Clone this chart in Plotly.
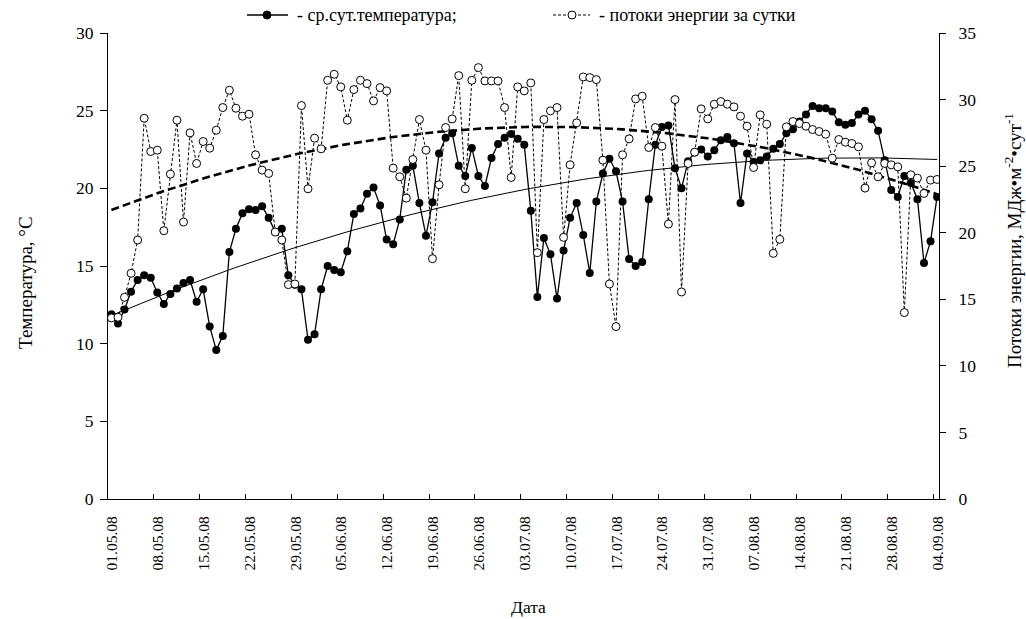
import numpy as np
import pandas as pd
import plotly.graph_objects as go

# ---------------- data ----------------
dates = pd.date_range("2008-05-01", "2008-09-04", freq="D")

temperature = [
    11.9, 11.3, 12.2, 13.35, 14.1, 14.4, 14.25, 13.3, 12.55, 13.2,
    13.55, 13.9, 14.1, 12.7, 13.5, 11.1, 9.6, 10.5, 15.9, 17.4,
    18.4, 18.65, 18.6, 18.85, 18.1, 17.2, 17.4, 14.4, 13.8, 13.5,
    10.25, 10.6, 13.5, 15.0, 14.75, 14.6, 15.95, 18.35, 18.7, 19.65,
    20.05, 18.9, 16.7, 16.4, 18.0, 21.2, 21.45, 19.05, 16.95, 19.1,
    22.25, 23.25, 23.55, 21.45, 20.8, 22.6, 20.8, 20.15, 21.95, 22.85,
    23.25, 23.5, 23.2, 22.8, 18.55, 13.0, 16.8, 15.75, 12.9, 16.0,
    18.1, 19.05, 17.0, 14.55, 19.15, 20.95, 21.9, 21.1, 19.15, 15.45,
    15.0, 15.25, 19.3, 22.8, 23.95, 24.05, 21.3, 20.0, 21.75, 22.3,
    22.5, 22.05, 22.45, 23.1, 23.3, 22.9, 19.05, 22.25, 21.7, 21.8,
    22.05, 22.55, 22.85, 23.55, 23.8, 24.3, 24.75, 25.3, 25.15, 25.15,
    24.95, 24.25, 24.1, 24.2, 24.75, 25.0, 24.45, 23.7, 21.8, 19.9,
    19.45, 20.8, 20.35, 19.3, 15.2, 16.6, 19.45,
]

energy = [
    13.6, 13.65, 15.15, 16.95, 19.45, 28.6, 26.1, 26.2, 20.15, 24.4,
    28.45, 20.8, 27.5, 25.2, 26.85, 26.35, 27.7, 29.4, 30.7, 29.35,
    28.75, 28.9, 25.85, 24.7, 24.45, 20.05, 19.45, 16.1, 16.15, 29.55,
    23.3, 27.1, 26.3, 31.45, 31.9, 30.95, 28.45, 30.75, 31.45, 31.2,
    29.9, 30.9, 30.65, 24.85, 24.2, 22.6, 25.5, 28.5, 26.2, 18.05,
    23.6, 27.9, 28.55, 31.8, 23.3, 31.45, 32.4, 31.4, 31.4, 31.4,
    29.4, 24.15, 30.95, 30.65, 31.25, 18.5, 28.5, 29.15, 29.4, 19.65,
    25.1, 28.25, 31.7, 31.65, 31.5, 25.45, 16.15, 12.95, 25.85, 27.05,
    30.05, 30.25, 26.4, 27.9, 26.5, 20.65, 30.0, 15.55, 25.2, 26.05,
    29.3, 28.55, 29.65, 29.85, 29.65, 29.45, 28.75, 28.0, 24.9, 28.85,
    28.15, 18.45, 19.5, 27.95, 28.35, 28.2, 28.0, 27.75, 27.6, 27.4,
    25.6, 27.0, 26.8, 26.7, 26.45, 23.35, 25.25, 24.2, 25.2, 25.1,
    24.95, 14.0, 24.35, 24.1, 22.95, 23.95, 24.0,
]

tick_labels = [
    "01.05.08", "08.05.08", "15.05.08", "22.05.08", "29.05.08", "05.06.08",
    "12.06.08", "19.06.08", "26.06.08", "03.07.08", "10.07.08", "17.07.08",
    "24.07.08", "31.07.08", "07.08.08", "14.08.08", "21.08.08", "28.08.08",
    "04.09.08",
]
tick_dates = pd.to_datetime(tick_labels, format="%d.%m.%y")

legend_names = ["- ср.сут.температура;", "- потоки энергии за сутки"]

# polynomial trend lines (2nd order), computed from the series
day = np.arange(len(dates))
temp_trend = np.polyval(np.polyfit(day, temperature, 2), day)
energy_trend = np.polyval(np.polyfit(day, energy, 2), day)

# ---------------- figure ----------------
FONT = "'Times New Roman', 'Liberation Serif', 'DejaVu Serif', serif"
W, H = 1026, 619
ML, MR, MT, MB = 108, 87, 33, 120
PW, PH = W - ML - MR, H - MT - MB


def xp(px):
    return (px - ML) / PW


def yp(py):
    return (H - MB - py) / PH


fig = go.Figure()

fig.add_trace(go.Scatter(
    x=dates, y=temp_trend, mode="lines", showlegend=False, hoverinfo="skip",
    line=dict(color="black", width=1),
))
fig.add_trace(go.Scatter(
    x=dates, y=temperature, mode="lines+markers", name=legend_names[0],
    showlegend=False,
    line=dict(color="black", width=1.3),
    marker=dict(symbol="circle", size=8, color="black"),
))
fig.add_trace(go.Scatter(
    x=dates, y=energy_trend, mode="lines", showlegend=False, hoverinfo="skip",
    yaxis="y2", line=dict(color="black", width=2.6, dash="8px,4px"),
))
fig.add_trace(go.Scatter(
    x=dates, y=energy, mode="lines+markers", name=legend_names[1],
    showlegend=False, yaxis="y2",
    line=dict(color="black", width=1, dash="3px,2px"),
    marker=dict(symbol="circle", size=8, color="white",
                line=dict(color="black", width=1)),
))

half = pd.Timedelta(hours=12.5)
x_left = dates[0] - half
x_right = x_left + pd.Timedelta(days=PW / 6.553)

axis_common = dict(showgrid=False, zeroline=False, color="black")

fig.update_layout(
    width=W, height=H,
    margin=dict(l=ML, r=MR, t=MT, b=MB, pad=0),
    paper_bgcolor="white", plot_bgcolor="white",
    font=dict(family=FONT, color="black", size=16),
    showlegend=False,
    xaxis=dict(
        **axis_common, type="date", range=[x_left, x_right],
        tickmode="array", tickvals=tick_dates - half, ticktext=tick_labels,
        tickangle=-90, ticks="inside", ticklen=5, tickcolor="black",
        showline=True, linecolor="black", linewidth=1,
        tickfont=dict(family=FONT, size=15.5),
        ticklabelshift=4, ticklabelstandoff=10,
    ),
    yaxis=dict(
        **axis_common, range=[0, 30], tickmode="linear", tick0=0, dtick=5,
        ticks="outside", ticklen=7, tickcolor="black",
        showline=True, linecolor="black", linewidth=1,
        tickfont=dict(family=FONT, size=17.5), ticklabelstandoff=3,
    ),
    yaxis3=dict(
        **axis_common, range=[0, 30], tickmode="linear", tick0=0, dtick=5,
        overlaying="y", side="left", anchor="x",
        ticks="inside", ticklen=7, tickcolor="black",
        showline=False, showticklabels=False,
    ),
    yaxis2=dict(
        **axis_common, range=[0, 35], tickmode="linear", tick0=0, dtick=5,
        overlaying="y", side="right", anchor="x",
        ticks="outside", ticklen=6, tickcolor="black",
        showline=True, linecolor="black", linewidth=1,
        tickfont=dict(family=FONT, size=17.5), ticklabelstandoff=9,
    ),
    yaxis4=dict(
        **axis_common, range=[0, 35], tickmode="linear", tick0=0, dtick=5,
        overlaying="y", side="right", anchor="x",
        ticks="inside", ticklen=6, tickcolor="black",
        showline=False, showticklabels=False,
    ),
)

ann = dict(xref="paper", yref="paper", showarrow=False,
           xanchor="center", yanchor="middle")

# axis titles
fig.add_annotation(text="Температура, °С", x=xp(25), y=yp(283),
                   textangle=-90, font=dict(family=FONT, size=19), **ann)
fig.add_annotation(text="Потоки энергии, МДж•м<sup>-2</sup>•сут<sup>-1</sup>",
                   x=xp(1013), y=yp(241), textangle=-90,
                   font=dict(family=FONT, size=19), **ann)
fig.add_annotation(text="Дата", x=xp(528), y=yp(607),
                   font=dict(family=FONT, size=17.5), **ann)

# legend (drawn manually above the plot)
LY = 15
fig.add_shape(type="line", xref="paper", yref="paper",
              x0=xp(247), x1=xp(288), y0=yp(LY), y1=yp(LY),
              line=dict(color="black", width=1.3))
fig.add_shape(type="circle", xref="paper", yref="paper",
              x0=xp(263), x1=xp(271), y0=yp(LY + 4), y1=yp(LY - 4),
              fillcolor="black", line=dict(color="black", width=1))
fig.add_shape(type="line", xref="paper", yref="paper",
              x0=xp(553), x1=xp(590), y0=yp(LY), y1=yp(LY),
              line=dict(color="black", width=1, dash="3px,2px"))
fig.add_shape(type="circle", xref="paper", yref="paper",
              x0=xp(568), x1=xp(576), y0=yp(LY + 4), y1=yp(LY - 4),
              fillcolor="white", line=dict(color="black", width=1))

leg = dict(ann)
leg["xanchor"] = "left"
fig.add_annotation(text=legend_names[0], x=xp(295), y=yp(LY),
                   font=dict(family=FONT, size=18), **leg)
fig.add_annotation(text=legend_names[1], x=xp(597), y=yp(LY),
                   font=dict(family=FONT, size=18), **leg)

fig.write_html("out.html")
